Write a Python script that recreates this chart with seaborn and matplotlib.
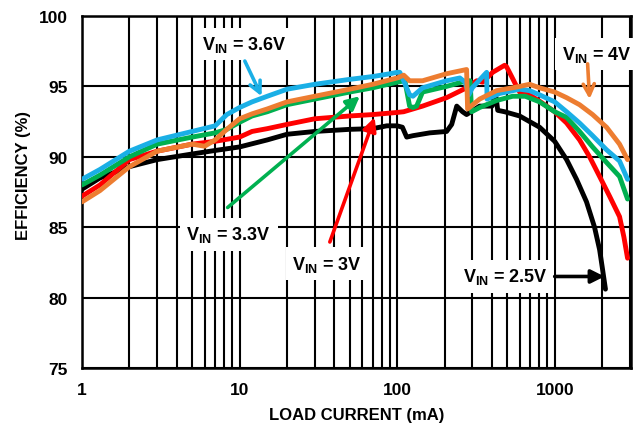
import numpy as np
import pandas as pd
import matplotlib
matplotlib.use("Agg")
import matplotlib.pyplot as plt
import seaborn as sns

# ---------------- data (load current mA, efficiency %) ----------------
black_x = [1, 1.3, 2, 3, 5, 7, 10, 15, 20, 30, 50, 70, 86, 100, 108, 115, 126, 161, 206,
           222, 239, 260, 276, 334, 400, 425, 435, 481, 599, 802, 1000, 1190, 1376, 1592,
           1790, 1928, 2013, 2100]
black_y = [87.7, 88.5, 89.3, 89.8, 90.2, 90.45, 90.7, 91.2, 91.6, 91.8, 91.95, 92.0, 92.2,
           92.2, 92.1, 91.4, 91.5, 91.7, 91.8, 92.3, 93.6, 93.2, 93.0, 93.6, 93.6, 94.2, 93.3,
           93.2, 92.9, 92.1, 91.1, 89.8, 88.4, 86.8, 85.0, 83.4, 82.0, 80.6]

red_x = [1, 1.3, 2, 3, 5, 7, 10, 12, 15, 20, 30, 50, 70, 100, 110, 145, 206, 276, 320,
         349, 404, 481, 495, 533, 573, 599, 693, 802, 1000, 1190, 1438, 1665, 1928, 2230,
         2580, 2750, 2900]
red_y = [87.2, 88.0, 89.8, 90.4, 90.9, 91.1, 91.4, 91.8, 92.0, 92.3, 92.7, 92.9, 93.0,
         93.15, 93.2, 93.6, 94.2, 94.9, 95.4, 95.3, 96.0, 96.5, 96.4, 95.7, 95.0, 94.6,
         94.4, 93.95, 93.2, 92.4, 91.2, 90.0, 88.6, 87.2, 85.75, 84.3, 82.8]

green_x = [1, 1.3, 2, 3, 5, 7, 8.3, 10, 12, 15, 20, 30, 50, 70, 100, 112, 120, 126, 133,
           145, 206, 276, 290, 297, 334, 428, 541, 650, 802, 1000, 1190, 1438, 1740, 2133,
           2580, 2900]
green_y = [88.0, 88.7, 90.0, 90.9, 91.4, 91.7, 91.95, 92.45, 92.9, 93.2, 93.7, 94.1, 94.6,
           94.9, 95.3, 95.4, 93.6, 93.5, 93.6, 94.6, 95.0, 95.4, 95.4, 93.2, 93.5, 94.0,
           94.3, 94.3, 93.9, 93.2, 92.8, 91.8, 90.7, 89.6, 88.6, 87.0]

cyan_x = [1, 1.3, 2, 3, 5, 7, 8.3, 10, 12, 15, 20, 30, 50, 70, 90, 100, 104, 112, 120,
          126, 145, 206, 250, 270, 285, 300, 370, 372, 448, 599, 693, 802, 1000, 1190,
          1438, 1740, 2133, 2580, 2900]
cyan_y = [88.4, 89.1, 90.4, 91.2, 91.8, 92.2, 93.0, 93.5, 93.9, 94.3, 94.8, 95.15, 95.5,
          95.7, 95.9, 96.0, 96.0, 95.2, 94.4, 94.3, 94.9, 95.4, 95.6, 95.3, 94.4, 94.9,
          96.0, 94.1, 94.5, 94.8, 94.7, 94.4, 93.9, 93.2, 92.4, 91.5, 90.5, 89.7, 88.4]

orange_x = [1, 1.3, 2, 3, 5, 6, 7, 8.3, 10, 12, 15, 20, 30, 50, 70, 100, 110, 120, 145,
            206, 276, 280, 334, 428, 541, 599, 693, 802, 1000, 1190, 1438, 1740, 2133,
            2580, 2900]
orange_y = [86.8, 87.6, 89.3, 90.4, 90.9, 90.75, 91.2, 91.95, 92.7, 93.05, 93.4, 93.9,
            94.3, 94.8, 95.15, 95.6, 95.8, 95.4, 95.4, 95.9, 96.2, 93.4, 94.1, 94.7, 94.9,
            95.0, 95.15, 94.9, 94.6, 94.2, 93.7, 93.0, 92.1, 90.9, 89.8]

series_names = ["2.5V", "3V", "3.3V", "3.6V", "4V"]
series_x = [black_x, red_x, green_x, cyan_x, orange_x]
series_y = [black_y, red_y, green_y, cyan_y, orange_y]
colors = ["#000000", "#FF0000", "#00B050", "#1AAFE6", "#ED7D31"]

x_ticks = [1, 10, 100, 1000]
x_tick_labels = ["1", "10", "100", "1000"]
y_ticks = [75, 80, 85, 90, 95, 100]

frames = []
for name, xs, ys in zip(series_names, series_x, series_y):
    frames.append(pd.DataFrame({"current": xs, "eff": ys, "vin": name,
                                "order": np.arange(len(xs))}))
df = pd.concat(frames, ignore_index=True)

# ---------------- style ----------------
sns.set_theme(style="white")
plt.rcParams["font.family"] = ["Liberation Sans", "DejaVu Sans"]
plt.rcParams["mathtext.fontset"] = "custom"
plt.rcParams["mathtext.rm"] = "Liberation Sans:bold"
plt.rcParams["mathtext.bf"] = "Liberation Sans:bold"
plt.rcParams["mathtext.it"] = "Liberation Sans:bold"

fig = plt.figure(figsize=(6.4, 4.31), dpi=100)
ax = fig.add_axes([82 / 640, 1 - 369 / 431, (631 - 82) / 640, (369 - 17) / 431])

palette = dict(zip(series_names, colors))
sns.lineplot(data=df, x="current", y="eff", hue="vin", units="vin", estimator=None,
             sort=False, palette=palette, linewidth=3.5, legend=False, ax=ax, zorder=3)

ax.set_xscale("log")
ax.set_xlim(1, 3050)
ax.set_ylim(75, 100)
ax.set_xticks(x_ticks)
ax.set_xticklabels(x_tick_labels)
ax.set_yticks(y_ticks)
ax.xaxis.set_minor_locator(matplotlib.ticker.LogLocator(base=10, subs=np.arange(2, 10)))
ax.xaxis.set_minor_formatter(matplotlib.ticker.NullFormatter())
ax.tick_params(axis="both", which="both", length=0, labelsize=12.5, pad=10)
for lab in ax.get_xticklabels() + ax.get_yticklabels():
    lab.set_fontweight("bold")
    lab.set_color("black")

ax.grid(which="major", axis="both", color="black", linewidth=1.5, zorder=1)
ax.grid(which="minor", axis="x", color="black", linewidth=1.5, zorder=1)
ax.set_axisbelow(True)
for sp in ax.spines.values():
    sp.set_color("black")
    sp.set_linewidth(1.8)

ax.set_xlabel("LOAD CURRENT (mA)", fontsize=12, fontweight="bold", color="black", labelpad=7)
ax.set_ylabel("EFFICIENCY (%)", fontsize=12, fontweight="bold", color="black")
ax.yaxis.set_label_coords(-0.093, 0.55)

# ---------------- annotations ----------------
box = dict(boxstyle="square,pad=0.35", facecolor="white", edgecolor="none")

def label(text, x, y, color, tail, head, style):
    ax.annotate("", xy=head, xytext=tail,
                arrowprops=dict(arrowstyle=style, color=color, lw=2.6,
                                mutation_scale=20, shrinkA=0, shrinkB=0),
                zorder=6)
    ax.text(x, y, r"V$_{\mathbf{IN}}$ = " + text, fontsize=13, fontweight="bold",
            ha="center", va="center", bbox=box, zorder=5, color="black")

label("3.6V", 10.8, 98.0, "#1AAFE6", (10.8, 96.8), (13.8, 94.3), "->")
label("4V", 1845, 97.3, "#ED7D31", (1618, 96.6), (1665, 94.1), "->")
label("3.3V", 8.55, 84.5, "#00B050", (8.4, 86.4), (58, 94.3), "-|>")
label("3V", 35.8, 82.4, "#FF0000", (37.4, 83.95), (72, 92.8), "-|>")
label("2.5V", 489, 81.5, "#000000", (1000, 81.5), (2071, 81.5), "-|>")

fig.savefig("out.png", dpi=100)
